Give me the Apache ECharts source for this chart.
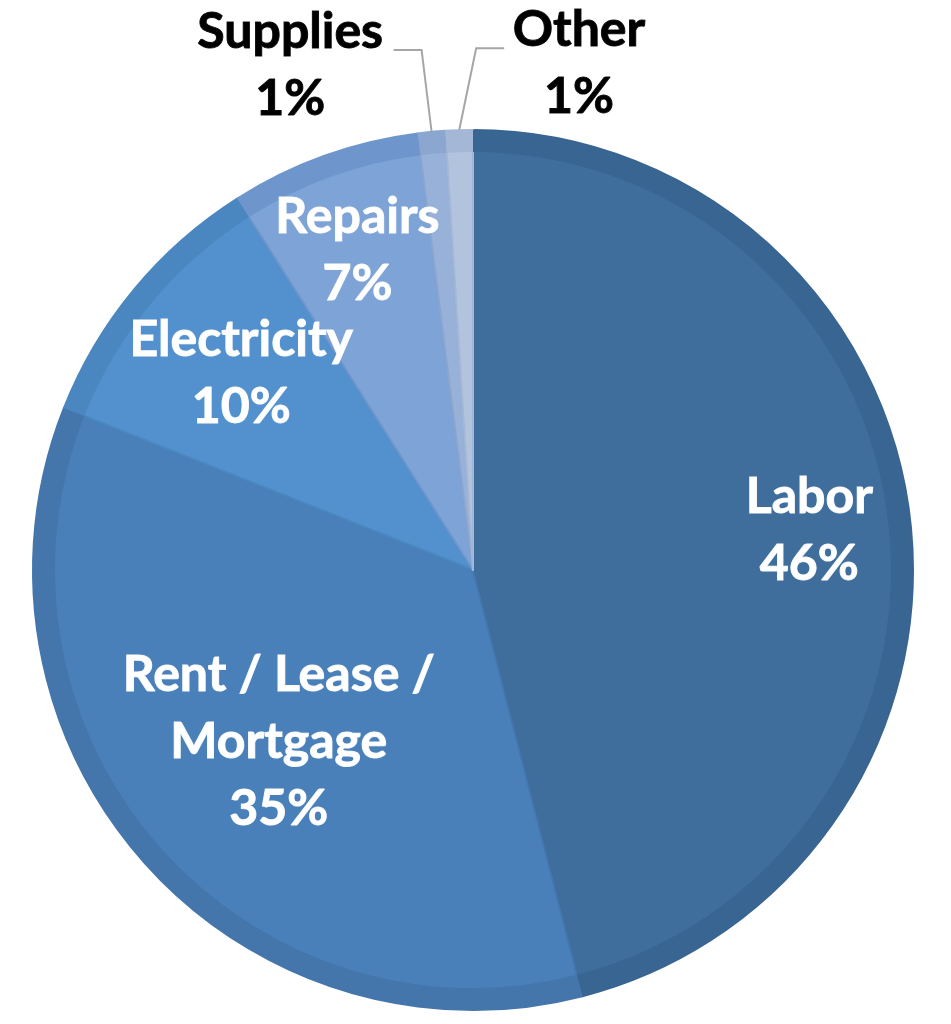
<!DOCTYPE html>
<html>
<head>
<meta charset="utf-8">
<script src="https://cdn.jsdelivr.net/npm/echarts@6/dist/echarts.min.js"></script>
<style>
  html, body { margin: 0; padding: 0; background: #ffffff; }
  #chart { width: 951px; height: 1024px; }
</style>
</head>
<body>
<div id="chart"></div>
<script>
// ---- data ----
const categories = ['Labor', 'Rent / Lease /\nMortgage', 'Electricity', 'Repairs', 'Supplies', 'Other'];
const values = [46, 35, 10, 7, 1, 1];
const percentLabels = ['46%', '35%', '10%', '7%', '1%', '1%'];

// ---- styles ----
const fillColors = ['#3f6e9d', '#4a80ba', '#5291cd', '#7da3d7', '#98b1d8', '#b2c3de'];
const rimColors  = ['#386591', '#4476ac', '#4a86bf', '#6f96cc', '#8ba6cf', '#a4b7d6'];
const outsideIdx = [4, 5];
// label shifts (px) from the default inside anchor, per slice
const insideShift = [[115, -12], [-27, 24], [-60, -54], [-40, -110]];

const chart = echarts.init(document.getElementById('chart'), null, { renderer: 'canvas' });

const pieData = categories.map((c, i) => ({
  name: c,
  value: values[i],
  itemStyle: { color: fillColors[i], borderColor: rimColors[i] },
  label: outsideIdx.includes(i)
    ? { position: 'outside', color: '#000000', overflow: 'none', width: null,
        textBorderColor: 'rgba(0,0,0,0.9)', textBorderWidth: 1 }
    : { position: 'inside', color: '#ffffff',
        textBorderColor: 'rgba(255,255,255,0.9)', textBorderWidth: 1 },
  labelLine: { show: outsideIdx.includes(i) }
}));

const rimData = categories.map((c, i) => ({
  name: c, value: values[i], itemStyle: { color: rimColors[i] }
}));

chart.setOption({
  backgroundColor: '#ffffff',
  animation: false,
  series: [
    {
      type: 'pie',
      center: [473, 570],
      radius: [0, 440],
      startAngle: 90,
      clockwise: true,
      data: pieData,
      itemStyle: { borderWidth: 2 },
      emphasis: { disabled: true },
      label: {
        show: true,
        formatter: p => p.name + '\n' + percentLabels[p.dataIndex],
        fontFamily: 'Lato',
        fontWeight: 'bold',
        fontSize: 50,
        lineHeight: 67,
        align: 'center',
        overflow: 'none'
      },
      labelLine: {
        show: false,
        smooth: false,
        lineStyle: { color: '#a6a6a6', width: 2 }
      },
      labelLayout: function (params) {
        const i = params.dataIndex;
        const w = params.labelRect.width;
        if (i < 4) {
          return { dx: insideShift[i][0], dy: insideShift[i][1] };
        }
        const pts = params.labelLinePoints;
        if (!pts) return {};
        const p0 = pts[0];
        if (i === 4) {
          const p1 = [p0[0] - 10, p0[1] - 82];
          const p2 = [p1[0] - 28, p1[1]];
          return { x: p2[0] - 10 - w / 2, y: p2[1] + 15, align: 'center', verticalAlign: 'middle', labelLinePoints: [p0, p1, p2] };
        } else {
          const p1 = [p0[0] + 17, p0[1] - 82];
          const p2 = [p1[0] + 28, p1[1]];
          return { x: p2[0] + 8 + w / 2, y: p2[1] + 15, align: 'center', verticalAlign: 'middle', labelLinePoints: [p0, p1, p2] };
        }
      }
    },
    {
      type: 'pie',
      center: [473, 570],
      radius: [418, 440],
      startAngle: 90,
      clockwise: true,
      silent: true,
      data: rimData,
      label: { show: false },
      labelLine: { show: false },
      emphasis: { disabled: true }
    }
  ]
});
</script>
</body>
</html>
